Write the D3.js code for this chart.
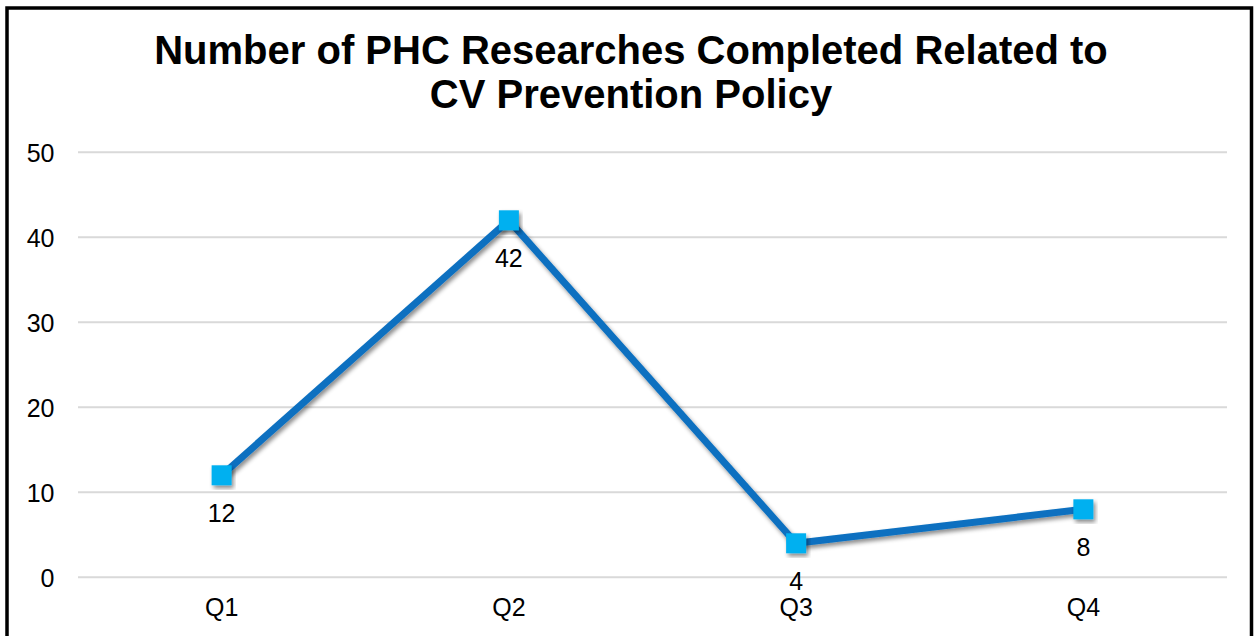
<!DOCTYPE html>
<html>
<head>
<meta charset="utf-8">
<script src="https://cdn.jsdelivr.net/npm/d3@7"></script>
<style>
html,body{margin:0;padding:0;background:#fff;}
svg{display:block;font-family:Arial,"Liberation Sans",sans-serif;}
</style>
</head>
<body>
<svg id="chart" width="1258" height="636"></svg>
<script>
const titleLines = ["Number of PHC Researches Completed Related to", "CV Prevention Policy"];
const categories = ["Q1", "Q2", "Q3", "Q4"];
const values = [12, 42, 4, 8];
const yTicks = [0, 10, 20, 30, 40, 50];

const svg = d3.select("#chart");
const W = 1258, H = 636;
const margin = {left: 78, right: 31, top: 152.3, bottom: 58.7};

const defs = svg.append("defs");
const f = defs.append("filter").attr("id","shadow").attr("x","-20%").attr("y","-20%").attr("width","140%").attr("height","140%");
f.append("feDropShadow").attr("dx",2).attr("dy",3).attr("stdDeviation",2).attr("flood-color","#000").attr("flood-opacity",0.45);

svg.append("rect").attr("x",0).attr("y",0).attr("width",W).attr("height",H).attr("fill","#fff");
// outer border
svg.append("rect").attr("x",7).attr("y",8).attr("width",1244.5).attr("height",H+20)
  .attr("fill","none").attr("stroke","#000").attr("stroke-width",3.5);

const x = d3.scaleBand().domain(categories).range([margin.left, W - margin.right]);
const y = d3.scaleLinear().domain([0,50]).range([H - margin.bottom, margin.top]);

// gridlines
svg.append("g").selectAll("line").data(yTicks).join("line")
  .attr("x1", margin.left).attr("x2", W - margin.right)
  .attr("y1", d=>y(d)).attr("y2", d=>y(d))
  .attr("stroke","#d9d9d9").attr("stroke-width",2);

// y axis labels
const yAxis = d3.axisLeft(y).tickValues(yTicks).tickSize(0).tickPadding(0);
const gy = svg.append("g").attr("transform",`translate(54.5,0)`).call(yAxis);
gy.select(".domain").remove();
gy.selectAll("text").attr("font-size",25).attr("fill","#000").attr("font-family","Arial, 'Liberation Sans', sans-serif").attr("dy","0.36em");

// x axis labels
const xAxis = d3.axisBottom(x).tickSize(0).tickPadding(0);
const gx = svg.append("g").attr("transform",`translate(0,${y(0)})`).call(xAxis);
gx.select(".domain").remove();
gx.selectAll("text").attr("font-size",25).attr("fill","#000").attr("font-family","Arial, 'Liberation Sans', sans-serif").attr("dy",null).attr("y",39);

// line
const line = d3.line().x((d,i)=>x(categories[i]) + x.bandwidth()/2).y(d=>y(d));
svg.append("path").datum(values).attr("d",line)
  .attr("fill","none").attr("stroke","#0a70c0").attr("stroke-width",7)
  .attr("stroke-linejoin","miter").attr("filter","url(#shadow)");

// markers
const ms = 20;
svg.append("g").selectAll("rect").data(values).join("rect")
  .attr("x",(d,i)=>x(categories[i]) + x.bandwidth()/2 - ms/2)
  .attr("y",d=>y(d) - ms/2)
  .attr("width",ms).attr("height",ms)
  .attr("fill","#00b0f0").attr("filter","url(#shadow)");

// data labels
svg.append("g").selectAll("text").data(values).join("text")
  .attr("x",(d,i)=>x(categories[i]) + x.bandwidth()/2)
  .attr("y",d=>y(d) + 47)
  .attr("text-anchor","middle").attr("font-size",25).attr("fill","#000")
  .text(d=>d);

// title
svg.append("g").selectAll("text").data(titleLines).join("text")
  .attr("x",631).attr("y",(d,i)=>63.5 + i*44.5)
  .attr("text-anchor","middle").attr("font-size",40).attr("font-weight","bold").attr("fill","#000")
  .text(d=>d);
</script>
</body>
</html>
